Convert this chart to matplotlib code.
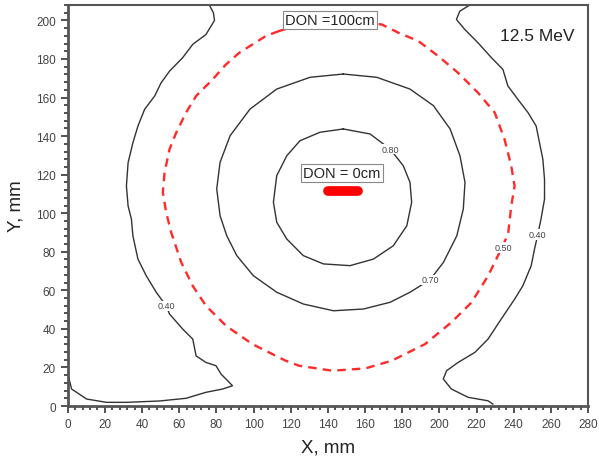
import matplotlib
matplotlib.use("Agg")
import matplotlib.pyplot as plt
from matplotlib.ticker import MultipleLocator

plt.rcParams["font.family"] = ["Liberation Sans", "DejaVu Sans"]

# === Isodose lines (mm) ===
left_040_x = [76.2, 78.4, 79.0, 74.4, 67.3, 61.9, 54.8, 50.3, 46.8, 41.4, 37.8, 35.1, 32.5, 31.6,
              32.5, 34.3, 35.1, 37.8, 42.3, 47.7, 53.0, 54.8, 61.9, 67.3, 69.1, 74.4, 79.8, 82.5,
              88.7, 83.3, 74.4, 63.7, 49.4, 31.6, 20.9, 10.2, 2.1, 0.3, 0.0]
left_040_y = [208, 204, 200, 192.7, 187.6, 180.7, 173.7, 167.7, 160.8, 153.9, 145.2, 136.6, 126.2, 114.1,
              103.8, 96.9, 88.2, 76.2, 67.5, 58.9, 52.0, 47.7, 39.9, 34.7, 26.0, 22.6, 20.9, 16.6,
              10.5, 8.8, 7.1, 4.0, 2.6, 1.9, 1.9, 3.6, 8.8, 15.7, 17.5]

right_040_x = [216.4, 211.0, 209.2, 213.7, 220.8, 228.0, 234.2, 236.9, 242.3, 247.7, 252.1, 253.9,
               255.7, 256.6, 256.6, 254.7, 253.0, 251.2, 249.4, 244.9, 240.5, 233.3, 226.2, 219.1,
               210.1, 203.9, 202.1, 206.5, 215.5, 226.2, 228.8]
right_040_y = [208, 204.8, 200.5, 195.3, 188.4, 180.7, 174.6, 166.0, 159.0, 152.2, 145.2, 136.6,
               128.0, 117.6, 107.3, 96.9, 89.0, 81.3, 72.7, 62.3, 55.4, 45.1, 34.7, 27.8,
               22.6, 18.3, 14.0, 8.8, 4.5, 2.7, 1.0]

dose_050_x = [113.7, 106.6, 92.3, 85.2, 78.0, 69.1, 63.7, 58.4, 54.8, 52.1, 51.2, 53.0, 55.7, 61.1,
              67.3, 74.4, 85.2, 99.4, 117.3, 124.4, 142.3, 160.2, 174.4, 192.3, 206.5, 217.3, 226.2,
              231.5, 237.0, 238.7, 240.5, 238.7, 235.1, 229.8, 220.8, 210.1, 199.4, 188.7, 178.0,
              169.0, 150.0, 130.0, 113.7]
dose_050_y = [194.5, 191.9, 183.2, 177.2, 169.4, 160.8, 152.2, 141.8, 133.2, 121.0, 110.7, 100.4, 90.0, 74.5,
              62.3, 52.0, 41.6, 32.1, 23.5, 20.9, 18.3, 19.5, 23.5, 32.1, 43.4, 53.7, 67.5,
              77.9, 89.1, 103.8, 114.1, 124.5, 138.3, 152.2, 162.5, 172.8, 181.5, 189.3, 193.6,
              197.9, 200.0, 199.0, 194.5]

dose_070_x = [148.3, 130.4, 112.5, 98.1, 87.4, 82.0, 80.2, 82.0, 85.6, 91.0, 99.9, 112.5, 126.8,
              143.0, 159.1, 173.5, 184.2, 195.0, 202.2, 209.4, 212.9, 213.8, 211.1, 205.8, 196.8,
              184.2, 166.3, 148.3]
dose_070_y = [172.2, 170.5, 164.4, 154.0, 140.2, 126.4, 112.6, 98.7, 88.3, 78.0, 67.6, 59.0, 52.9,
              49.4, 50.3, 53.8, 59.0, 65.5, 74.5, 88.3, 102.2, 116.0, 129.8, 143.7, 155.8,
              164.4, 170.5, 172.2]

dose_080_x = [148.3, 135.8, 125.0, 117.9, 112.5, 110.7, 112.5, 117.9, 126.8, 137.6, 151.9, 164.5,
              175.2, 182.5, 185.1, 184.2, 180.6, 173.5, 162.7, 148.3]
dose_080_y = [143.7, 142.0, 137.6, 129.8, 119.5, 105.7, 95.3, 86.6, 78.0, 73.7, 72.8, 76.2,
              83.1, 93.5, 105.7, 116.0, 124.6, 133.3, 141.1, 143.7]

# beam spot at DON = 0 cm
spot_x = [140, 156]
spot_y = [111.5, 111.5]

# contour labels: text, x, y
level_labels = ["0.40", "0.40", "0.50", "0.70", "0.80"]
level_x = [53.0, 253.0, 234.2, 195.0, 173.5]
level_y = [52.0, 89.0, 82.2, 65.5, 133.3]

fig = plt.figure(figsize=(5.99, 4.64), dpi=100)
ax = fig.add_axes([67.7 / 599, 1 - 407 / 464, (588 - 67.7) / 599, (407 - 6) / 464])

line_kw = dict(color="#333333", lw=1.0)
ax.plot(left_040_x, left_040_y, **line_kw)
ax.plot(right_040_x, right_040_y, **line_kw)
ax.plot(dose_070_x, dose_070_y, **line_kw)
ax.plot(dose_080_x, dose_080_y, **line_kw)
ax.plot(dose_050_x, dose_050_y, color="#ff2a2a", lw=1.7, dashes=(3.6, 2.6))
ax.plot(spot_x, spot_y, color="#ff0000", lw=7, solid_capstyle="round")

for t, x, y in zip(level_labels, level_x, level_y):
    ax.text(x, y, t, fontsize=6.5, color="#444444", ha="center", va="center",
            bbox=dict(facecolor="white", edgecolor="none", pad=0.5))

box = dict(facecolor="white", edgecolor="#888888", lw=0.8, boxstyle="square,pad=0.15")
ax.text(141, 200.2, "DON =100cm", fontsize=10.5, color="#222222", ha="center", va="center", bbox=box)
ax.text(147.5, 121, "DON = 0cm", fontsize=10.5, color="#222222", ha="center", va="center", bbox=box)
ax.text(252.6, 192.4, "12.5 MeV", fontsize=12.5, color="#222222", ha="center", va="center")

ax.set_xlim(0, 280)
ax.set_ylim(0, 208)
ax.xaxis.set_major_locator(MultipleLocator(20))
ax.yaxis.set_major_locator(MultipleLocator(20))
ax.xaxis.set_minor_locator(MultipleLocator(4))
ax.yaxis.set_minor_locator(MultipleLocator(4))
ax.tick_params(which="both", direction="out", top=False, right=False, colors="#444444",
               labelsize=8.5, width=1.3)
ax.tick_params(which="major", length=5)
ax.tick_params(which="minor", length=3)
for s in ax.spines.values():
    s.set_linewidth(1.5)
    s.set_color("#555555")
ax.spines["left"].set_linewidth(2)
ax.spines["bottom"].set_linewidth(2)

ax.set_xlabel("X, mm", fontsize=13.5, color="#222222", labelpad=6)
ax.set_ylabel("Y, mm", fontsize=13.5, color="#222222", labelpad=8)

plt.savefig("out.png", dpi=100)
plt.close()
